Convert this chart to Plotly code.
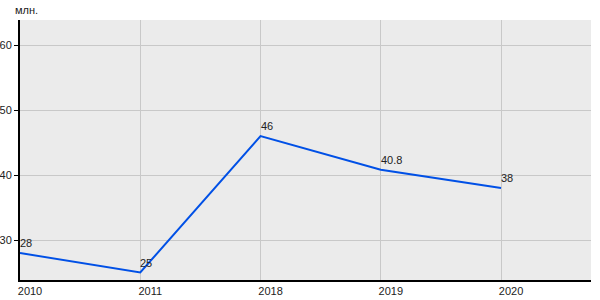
import plotly.graph_objects as go

years = ["2010", "2011", "2018", "2019", "2020"]
values = [28, 25, 46, 40.8, 38]
labels = ["28", "25", "46", "40.8", "38"]
y_ticks = [30, 40, 50, 60]
y_title = "млн."

fig = go.Figure()
fig.add_trace(go.Scatter(
    x=years, y=values, mode="lines",
    line=dict(color="#0050E6", width=2),
    hoverinfo="skip", showlegend=False,
))
for i, (y, t) in enumerate(zip(values, labels)):
    fig.add_annotation(x=i, y=y, text=t, showarrow=False,
                       xanchor="left", yanchor="bottom", xshift=-2, yshift=2,
                       font=dict(family="Liberation Sans, Arial", size=11, color="#222"))
fig.add_annotation(xref="paper", yref="paper", x=0, y=1, text=y_title,
                   showarrow=False, xanchor="left", yanchor="bottom",
                   xshift=-7, yshift=2,
                   font=dict(family="Liberation Sans, Arial", size=11, color="#222"))

fig.update_layout(
    width=600, height=300,
    margin=dict(l=20, r=9, t=20, b=20, autoexpand=False),
    paper_bgcolor="white", plot_bgcolor="#EBEBEB",
    font=dict(family="Liberation Sans, Arial", size=11, color="#222"),
    xaxis=dict(type="category", range=[0, 4.748], showgrid=True, automargin=False,
               gridcolor="#C8C8C8", gridwidth=1, showline=True,
               linecolor="black", linewidth=2, ticks="", zeroline=False,
               ticklabelshift=10, ticklabelstandoff=0),
    yaxis=dict(range=[23.85, 63.85], tickvals=y_ticks, showgrid=True, automargin=False,
               gridcolor="#C8C8C8", gridwidth=1, showline=True,
               linecolor="black", linewidth=2, ticks="outside",
               ticklen=4, tickcolor="black", zeroline=False),
)
fig.write_html("out.html")
